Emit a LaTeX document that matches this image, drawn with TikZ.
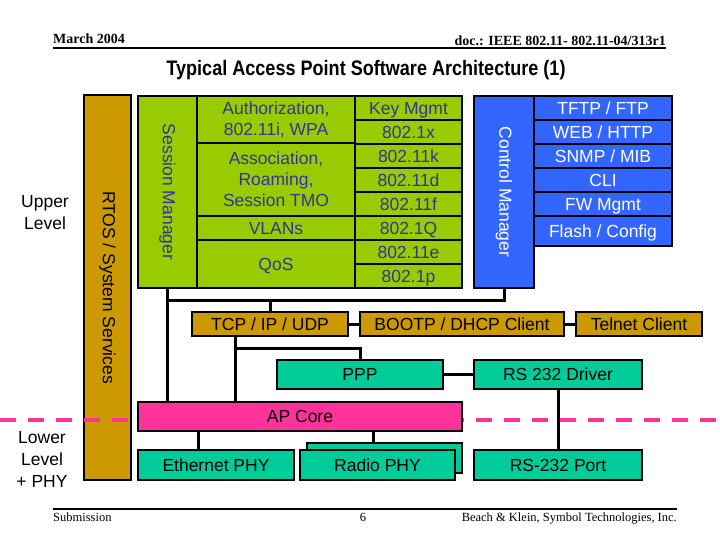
\documentclass[tikz,border=0pt]{standalone}
\usepackage{fontspec}
\setmainfont{Liberation Sans}
\newfontfamily\timesfont{Liberation Serif}
\usetikzlibrary{positioning}

\definecolor{rtosgold}{RGB}{204,153,0}
\definecolor{sessgreen}{RGB}{153,204,0}
\definecolor{ctrlblue}{RGB}{51,102,255}
\definecolor{phyteal}{RGB}{0,204,153}
\definecolor{corepink}{RGB}{255,51,153}
\definecolor{sessnavy}{RGB}{51,51,153}

\tikzset{
  box/.style={draw, line width=2pt, anchor=north west, inner sep=0pt, outer sep=0pt,
    align=center, font=\fontsize{17.5}{21}\selectfont},
  oneline/.style={text height=12.5pt, text depth=0pt},
  wire/.style={line width=3pt},
  sidetext/.style={align=center, font=\fontsize{17.5}{22}\selectfont},
  pagetext/.style={font=\timesfont\fontsize{12.5}{14}\selectfont, inner sep=0pt},
  headtext/.style={font=\timesfont\bfseries\fontsize{14}{16}\selectfont, inner sep=0pt},
}

% box from (x1,y1) to (x2,y2) in pixels, y going down
\newcommand{\blk}[7]{\node[box, #6, minimum width={(#4-#2)*1pt},
  minimum height={(#5-#3)*1pt}] (#1) at (#2,#3) {#7};}

\begin{document}
\begin{tikzpicture}[x=1pt,y=-1pt]
\useasboundingbox (0,0) rectangle (720,540);

% header and footer
\node[headtext, anchor=base west] (date) at (53,44) {March 2004};
\node[headtext, anchor=base east] (docnr) at (666,46) {doc.: IEEE 802.11- 802.11-04/313r1};
\draw[line width=2pt] (53,48) -- (666,48);
\node (title) at (366,70) {\scalebox{0.86}[1]{\fontsize{21}{24}\selectfont\bfseries Typical Access Point Software Architecture (1)}};
\draw[line width=2pt] (53,509) -- (677,509);
\node[pagetext, anchor=base west] (submit) at (53,521) {Submission};
\node[pagetext, anchor=base] (page) at (363,521) {6};
\node[pagetext, anchor=base east] (authors) at (677,521) {Beach \& Klein, Symbol Technologies, Inc.};

% left side levels
\node[sidetext] (upper) at (45,213) {Upper\\Level};
\node[sidetext] (lower) at (42,459) {Lower\\Level\\+ PHY};

% RTOS bar
\blk{rtos}{84}{95}{131}{480}{fill=rtosgold}{}
\node[rotate=-90, font=\fontsize{17.5}{21}\selectfont] (rtoslbl) at (rtos.center) {RTOS / System Services};

% level border
\draw[corepink, line width=4pt, dash pattern=on 16pt off 12pt] (0,420) -- (720,420);

% wires
\coordinate (bus) at (167.5,300);
\coordinate (tcptap) at (235,336);
\coordinate (pppbus) at (235,348);
\coordinate (ethtap) at (198,431);
\coordinate (radiotap) at (373,431);
\draw[wire] (bus) -- (bus |- 0,402);
\draw[wire] (bus) -- (bus |- 0,287);
\draw[wire] (504,288) |- (bus);
\draw[wire] (270,312) -- (270,300);
\draw[wire] (tcptap) -- (tcptap |- 0,402);
\draw[wire] (pppbus) -| (360,360);
\draw[wire] (ethtap) -- (ethtap |- 0,450);
\draw[wire] (radiotap) -- (radiotap |- 0,443);

% session manager
\blk{sess}{138}{96}{197}{288}{fill=sessgreen}{}
\node[rotate=-90, text=sessnavy, font=\fontsize{17.5}{21}\selectfont] (sesslbl) at (sess.center) {Session Manager};
\blk{auth}{197}{96}{355}{143}{fill=sessgreen, text=sessnavy}{Authorization,\\802.11i, WPA}
\blk{assoc}{197}{143}{355}{216}{fill=sessgreen, text=sessnavy}{Association,\\Roaming,\\Session TMO}
\blk{vlan}{197}{216}{355}{240}{fill=sessgreen, text=sessnavy, oneline}{VLANs}
\blk{qos}{197}{240}{355}{288}{fill=sessgreen, text=sessnavy, oneline}{QoS}
\foreach \t [count=\i from 0] in {Key Mgmt,802.1x,802.11k,802.11d,802.11f,802.1Q,802.11e,802.1p}{
  \pgfmathsetmacro\ya{96+24*\i}
  \pgfmathsetmacro\yb{\ya+24}
  \blk{key\i}{355}{\ya}{462}{\yb}{fill=sessgreen, text=sessnavy, oneline}{\t}
}

% control manager
\blk{ctrl}{474}{96}{534}{288}{fill=ctrlblue}{}
\node[rotate=-90, text=white, font=\fontsize{17.5}{21}\selectfont] (ctrllbl) at (ctrl.center) {Control Manager};
\foreach \ya/\yb/\t [count=\i] in {96/120/{TFTP / FTP},120/144/{WEB / HTTP},144/168/{SNMP / MIB},
    168/192/{CLI},192/216/{FW Mgmt},216/246/{Flash / Config}}{
  \blk{mgmt\i}{534}{\ya}{672}{\yb}{fill=ctrlblue, text=white, oneline}{\t}
}

% network stack
\blk{tcp}{192}{312}{348}{336}{fill=rtosgold, oneline}{TCP / IP / UDP}
\blk{boot}{360}{312}{564}{336}{fill=rtosgold, oneline}{BOOTP / DHCP Client}
\blk{telnet}{576}{312}{702}{336}{fill=rtosgold, oneline}{Telnet Client}
\blk{ppp}{277}{360}{443}{389}{fill=phyteal, oneline}{PPP}
\blk{drv}{474}{360}{642}{389}{fill=phyteal, oneline}{RS 232 Driver}
\draw[wire] (tcp) -- (boot);
\draw[wire] (boot) -- (telnet);
\draw[wire] (ppp) -- (drv);
\draw[wire] (drv) -- (drv |- 0,450);

% core and phy
\blk{core}{138}{402}{462}{431}{fill=corepink, oneline}{AP Core}
\blk{eth}{138}{450}{294}{480}{fill=phyteal, oneline}{Ethernet PHY}
\blk{radioback}{307}{443}{462}{473}{fill=phyteal}{}
\blk{radio}{300}{450}{455}{480}{fill=phyteal, oneline}{Radio PHY}
\blk{port}{474}{450}{642}{480}{fill=phyteal, oneline}{RS-232 Port}
\end{tikzpicture}
\end{document}
